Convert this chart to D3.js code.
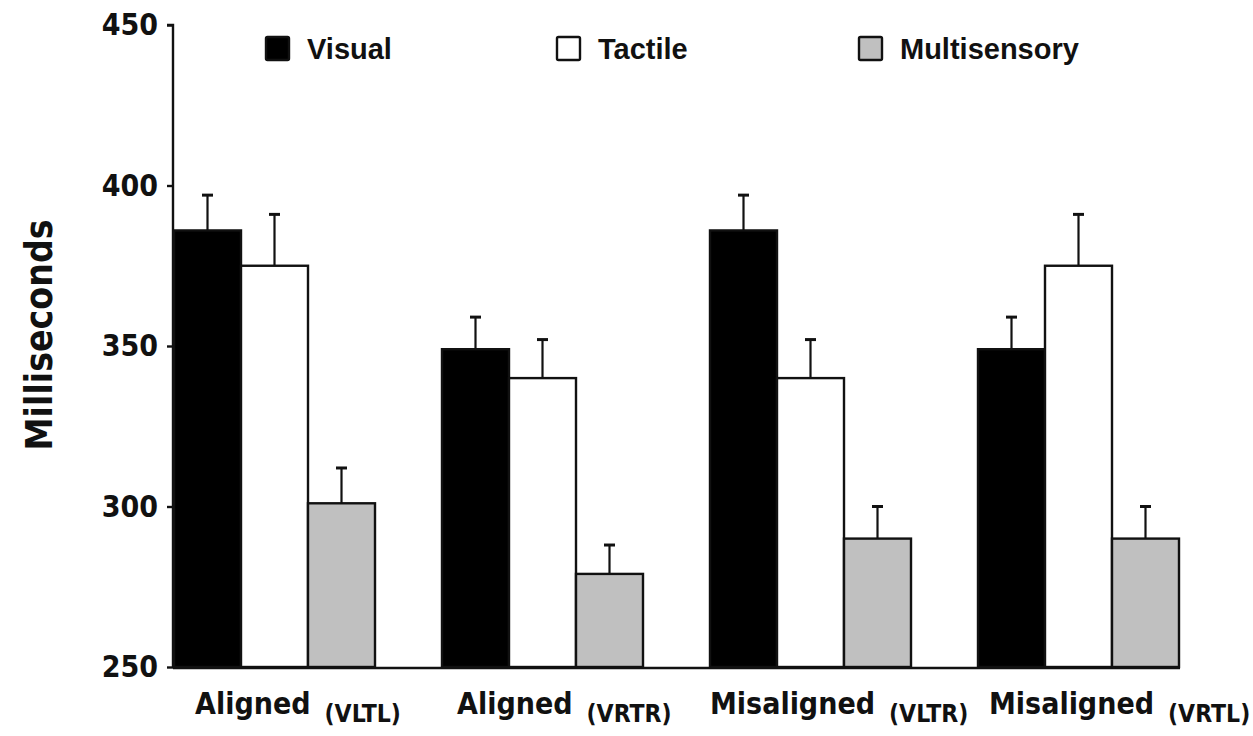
<!DOCTYPE html>
<html>
<head>
<meta charset="utf-8">
<script src="https://cdn.jsdelivr.net/npm/d3@7"></script>
<style>
  html, body { margin: 0; padding: 0; background: #fff; }
  svg { display: block; }
</style>
</head>
<body>
<svg id="chart" width="1253" height="736"></svg>
<script>
// Reaction times (ms) per condition, with standard errors
const conditions = ["Aligned", "Aligned", "Misaligned", "Misaligned"];
const conditionTags = ["(VLTL)", "(VRTR)", "(VLTR)", "(VRTL)"];
const seriesNames = ["Visual", "Tactile", "Multisensory"];
const visualMs = [386, 349, 386, 349];
const visualErr = [11, 10, 11, 10];
const tactileMs = [375, 340, 340, 375];
const tactileErr = [16, 12, 12, 16];
const multiMs = [301, 279, 290, 290];
const multiErr = [11, 9, 10, 10];
const yTicks = [250, 300, 350, 400, 450];

const seriesValues = [visualMs, tactileMs, multiMs];
const seriesErrors = [visualErr, tactileErr, multiErr];
const fills = ["#000000", "#ffffff", "#c0c0c0"];

const axisFont = "DejaVu Sans Condensed, DejaVu Sans, sans-serif";
const svg = d3.select("#chart");
const plotLeft = 174, plotRight = 1179, plotTop = 25, plotBottom = 667;

const x0 = d3.scaleBand().domain(d3.range(conditions.length)).range([plotLeft, plotRight]).paddingInner(0.25).paddingOuter(0);
const x1 = d3.scaleBand().domain(d3.range(seriesNames.length)).range([0, x0.bandwidth()]).padding(0);
const y = d3.scaleLinear().domain([250, 450]).range([plotBottom, plotTop]);

// flatten into bar records
const bars = [];
conditions.forEach((c, i) => {
  seriesNames.forEach((s, j) => {
    bars.push({ i, j, v: seriesValues[j][i], e: seriesErrors[j][i] });
  });
});

// error bars (drawn first so the bar outline sits on top)
const eg = svg.append("g");
bars.forEach(b => {
  const cx = x0(b.i) + x1(b.j) + x1.bandwidth() / 2;
  eg.append("line").attr("x1", cx).attr("x2", cx)
    .attr("y1", y(b.v)).attr("y2", y(b.v + b.e))
    .attr("stroke", "#111").attr("stroke-width", 2.2);
  eg.append("line").attr("x1", cx - 5.5).attr("x2", cx + 5.5)
    .attr("y1", y(b.v + b.e)).attr("y2", y(b.v + b.e))
    .attr("stroke", "#111").attr("stroke-width", 3);
});

// bars
svg.append("g").selectAll("rect").data(bars).join("rect")
  .attr("x", d => x0(d.i) + x1(d.j))
  .attr("y", d => y(d.v))
  .attr("width", x1.bandwidth())
  .attr("height", d => y(250) - y(d.v))
  .attr("fill", d => fills[d.j])
  .attr("stroke", "#111")
  .attr("stroke-width", 2.4);

// y axis
const yAxis = d3.axisLeft(y).tickValues(yTicks).tickSize(6).tickPadding(9);
const yg = svg.append("g").attr("transform", `translate(${plotLeft - 1},0)`).call(yAxis);
yg.select(".domain").attr("stroke", "#111").attr("stroke-width", 2.4).attr("d", `M-6,${plotTop}H0V${plotBottom}`);
yg.selectAll(".tick line").attr("stroke", "#111").attr("stroke-width", 2.4);
yg.selectAll(".tick text")
  .attr("font-family", axisFont)
  .attr("font-weight", "bold").attr("font-size", 30).attr("fill", "#111");

// x axis baseline
svg.append("line").attr("x1", plotLeft - 1).attr("x2", plotRight + 1)
  .attr("y1", plotBottom + 1).attr("y2", plotBottom + 1)
  .attr("stroke", "#111").attr("stroke-width", 2.6);

// y axis title
svg.append("text")
  .attr("transform", `translate(52,335) rotate(-90)`)
  .attr("text-anchor", "middle")
  .attr("font-family", axisFont)
  .attr("font-weight", "bold").attr("font-size", 37).attr("fill", "#111")
  .text("Milliseconds");

// category labels with subscript tags
const labelNudge = [21, 15, 0, 11];
conditions.forEach((c, i) => {
  const t = svg.append("text")
    .attr("x", x0(i) + labelNudge[i]).attr("y", 714)
    .attr("font-family", axisFont)
    .attr("font-weight", "bold").attr("fill", "#111");
  t.append("tspan").attr("font-size", 30).text(c);
  t.append("tspan").attr("font-size", 24.5).attr("dx", 14).attr("dy", 8).text(conditionTags[i]);
});

// legend
const legendX = [266, 557, 859];
const lg = svg.append("g");
seriesNames.forEach((s, j) => {
  lg.append("rect").attr("x", legendX[j]).attr("y", 37).attr("width", 23).attr("height", 23)
    .attr("fill", fills[j]).attr("stroke", "#111").attr("stroke-width", 2.4).attr("rx", 1.5);
  lg.append("text").attr("x", legendX[j] + 41).attr("y", 59)
    .attr("font-family", "Liberation Sans, Arial, sans-serif")
    .attr("font-weight", "bold").attr("font-size", 29).attr("fill", "#111")
    .text(s);
});
</script>
</body>
</html>
